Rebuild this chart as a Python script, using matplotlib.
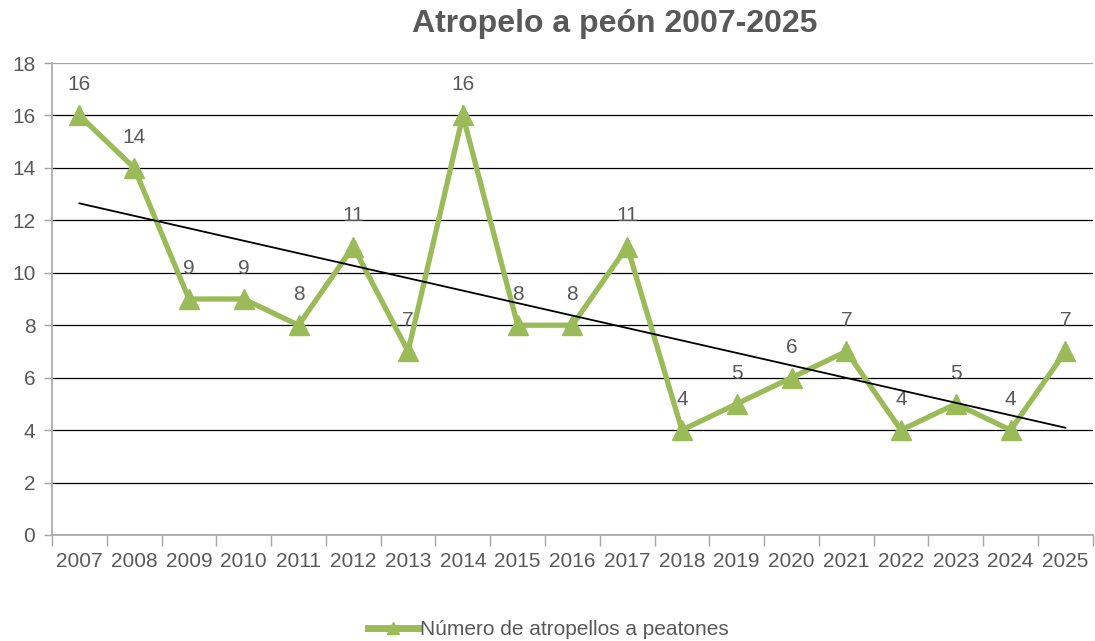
import numpy as np
import matplotlib.pyplot as plt
from matplotlib.ticker import FixedLocator

plt.rcParams['font.family'] = ['Liberation Sans', 'DejaVu Sans']

years = [str(y) for y in range(2007, 2026)]
values = [16, 14, 9, 9, 8, 11, 7, 16, 8, 8, 11, 4, 5, 6, 7, 4, 5, 4, 7]
series_name = 'Número de atropellos a peatones'
title = 'Atropelo a peón 2007-2025'

green = '#9BBB59'
text_gray = '#595959'
axis_gray = '#A6A6A6'

fig = plt.figure(figsize=(10.95, 6.41), dpi=100)
ax = fig.add_axes([0.0475, 0.1654, 0.9505, 0.7363])

x = np.arange(len(years))
ax.plot(x, values, color=green, linewidth=3.8, marker='^', markersize=14,
        markeredgecolor=green, markerfacecolor=green, label=series_name,
        zorder=3, solid_joinstyle='miter')

# linear trendline
k, b = np.polyfit(x, values, 1)
ax.plot(x, k * x + b, color='black', linewidth=1.3, zorder=4)

for xi, v in zip(x, values):
    ax.annotate(str(v), (xi, v), xytext=(0, 22), textcoords='offset points',
                ha='center', va='center', fontsize=15, color=text_gray)

ax.set_xlim(-0.5, len(years) - 0.5)
ax.set_ylim(0, 18)
ax.set_yticks(range(0, 19, 2))
ax.set_xticks(x)
ax.set_xticklabels(years)
ax.xaxis.set_minor_locator(FixedLocator(np.arange(-0.5, len(years), 1)))
ax.tick_params(axis='x', which='major', length=0, pad=12, labelsize=15, labelcolor=text_gray)
ax.tick_params(axis='x', which='minor', length=8, color=axis_gray, width=1)
ax.tick_params(axis='y', length=6, color=axis_gray, width=1, pad=6, labelsize=15, labelcolor=text_gray)

ax.grid(axis='y', color='black', linewidth=0.9)
ax.set_axisbelow(True)
ax.get_ygridlines()[-1].set_color(axis_gray)
for s in ['top', 'right']:
    ax.spines[s].set_visible(False)
for s in ['left', 'bottom']:
    ax.spines[s].set_color(axis_gray)
    ax.spines[s].set_linewidth(1.2)

fig.text(0.5616, 0.963, title, ha='center', va='center', fontsize=23,
         fontweight='bold', color=text_gray)

leg = fig.legend(loc='center', bbox_to_anchor=(0.501, 0.018), frameon=False,
                 fontsize=15, handlelength=2.4, handletextpad=0.1, markerscale=0.6)
for t in leg.get_texts():
    t.set_color(text_gray)
leg.get_lines()[0].set_linewidth(5)

fig.savefig('out.png', dpi=100)
